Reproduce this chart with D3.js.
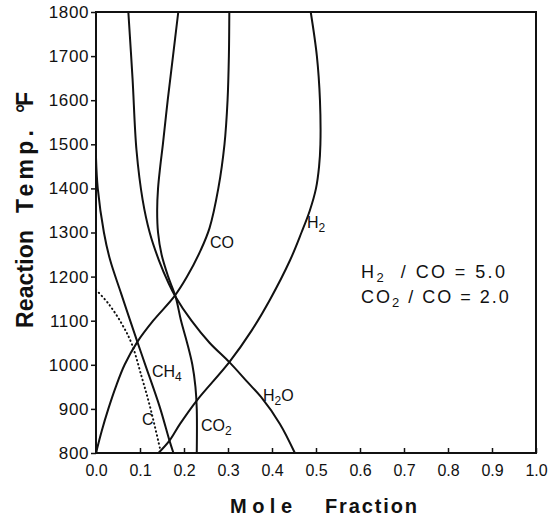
<!DOCTYPE html>
<html>
<head>
<meta charset="utf-8">
<script src="https://cdn.jsdelivr.net/npm/d3@7"></script>
<style>
  html, body { margin: 0; padding: 0; background: #fff; }
  svg { display: block; }
  text { font-family: "Liberation Sans", Arial, sans-serif; fill: #111; }
</style>
</head>
<body>
<svg id="chart" width="557" height="518"></svg>
<script>
// Axis ticks
const xTicks = [0, 0.1, 0.2, 0.3, 0.4, 0.5, 0.6, 0.7, 0.8, 0.9, 1.0];
const xTickLabels = ["0.0", "0.1", "0.2", "0.3", "0.4", "0.5", "0.6", "0.7", "0.8", "0.9", "1.0"];
const yTicks = [800, 900, 1000, 1100, 1200, 1300, 1400, 1500, 1600, 1700, 1800];
const yTickLabels = ["800", "900", "1000", "1100", "1200", "1300", "1400", "1500", "1600", "1700", "1800"];

// Equilibrium composition: reaction temperature (°F) vs mole fraction
const h2Temp  = [800, 828, 866, 919, 1006, 1078, 1147, 1237, 1300, 1350, 1400, 1450, 1500, 1600, 1700, 1800];
const h2Frac  = [0.142, 0.167, 0.191, 0.229, 0.303, 0.354, 0.395, 0.441, 0.467, 0.486, 0.500, 0.507, 0.510, 0.509, 0.502, 0.488];

const h2oTemp = [800, 866, 927, 960, 1006, 1050, 1100, 1154, 1185, 1237, 1300, 1374, 1487, 1650, 1800];
const h2oFrac = [0.452, 0.418, 0.375, 0.345, 0.303, 0.258, 0.217, 0.181, 0.165, 0.143, 0.122, 0.106, 0.092, 0.083, 0.0735];

const coTemp  = [800, 850, 900, 950, 1000, 1052, 1100, 1155, 1200, 1260, 1310, 1400, 1500, 1600, 1700, 1800];
const coFrac  = [0.0, 0.013, 0.028, 0.045, 0.065, 0.094, 0.130, 0.178, 0.207, 0.238, 0.258, 0.278, 0.292, 0.299, 0.302, 0.303];

const co2Temp = [800, 900, 950, 1000, 1050, 1101, 1154, 1200, 1250, 1300, 1350, 1400, 1450, 1500, 1600, 1700, 1800];
const co2Frac = [0.229, 0.229, 0.226, 0.219, 0.207, 0.193, 0.181, 0.164, 0.149, 0.141, 0.139, 0.141, 0.146, 0.152, 0.163, 0.175, 0.187];

const ch4Temp = [800, 828, 904, 1000, 1052, 1162, 1238, 1300, 1400, 1470];
const ch4Frac = [0.176, 0.167, 0.145, 0.112, 0.094, 0.057, 0.032, 0.018, 0.004, 0.0];

const cTemp   = [812, 904, 972, 1048, 1094, 1139, 1170];
const cFrac   = [0.145, 0.123, 0.104, 0.081, 0.058, 0.028, 0.0];

const svg = d3.select("#chart");
const plotLeft = 96, plotRight = 536, plotTop = 12, plotBottom = 453;

const x = d3.scaleLinear().domain([0, 1]).range([plotLeft, plotRight]);
const y = d3.scaleLinear().domain([800, 1800]).range([plotBottom, plotTop]);

const ink = "#111";

// Frame
svg.append("rect")
  .attr("x", plotLeft).attr("y", plotTop)
  .attr("width", plotRight - plotLeft).attr("height", plotBottom - plotTop)
  .attr("fill", "none").attr("stroke", ink).attr("stroke-width", 2);

// Bottom axis: ticks pointing inward
const xAxis = d3.axisBottom(x)
  .tickValues(xTicks)
  .tickFormat((d, i) => xTickLabels[i])
  .tickSizeInner(-5).tickSizeOuter(0).tickPadding(12);
const gx = svg.append("g").attr("transform", `translate(0,${plotBottom})`).call(xAxis);
gx.select(".domain").remove();
gx.selectAll(".tick line").attr("stroke", ink).attr("stroke-width", 1.5);
gx.selectAll(".tick text")
  .attr("font-size", 16).attr("fill", ink)
  .style("font-family", '"Liberation Sans", Arial, sans-serif');

// Left axis: ticks pointing outward
const yAxis = d3.axisLeft(y)
  .tickValues(yTicks)
  .tickFormat((d, i) => yTickLabels[i])
  .tickSizeInner(5).tickSizeOuter(0).tickPadding(2);
const gy = svg.append("g").attr("transform", `translate(${plotLeft},0)`).call(yAxis);
gy.select(".domain").remove();
gy.selectAll(".tick line").attr("stroke", ink).attr("stroke-width", 1.5);
gy.selectAll(".tick text")
  .attr("font-size", 17).attr("fill", ink).attr("letter-spacing", 0.6)
  .style("font-family", '"Liberation Sans", Arial, sans-serif');

// Curves
const line = d3.line()
  .x(d => x(d[1]))
  .y(d => y(d[0]))
  .curve(d3.curveCatmullRom.alpha(0.5));

const zip = (t, f) => t.map((v, i) => [v, f[i]]);

const series = [
  { name: "H2",  pts: zip(h2Temp, h2Frac),   dash: null },
  { name: "H2O", pts: zip(h2oTemp, h2oFrac), dash: null },
  { name: "CO",  pts: zip(coTemp, coFrac),   dash: null },
  { name: "CO2", pts: zip(co2Temp, co2Frac), dash: null },
  { name: "CH4", pts: zip(ch4Temp, ch4Frac), dash: null },
  { name: "C",   pts: zip(cTemp, cFrac),     dash: "0.5 3.6" }
];

const plot = svg.append("g");
plot.selectAll("path.curve")
  .data(series)
  .join("path")
  .attr("class", "curve")
  .attr("d", d => line(d.pts))
  .attr("fill", "none")
  .attr("stroke", ink)
  .attr("stroke-width", 2)
  .attr("stroke-linecap", "round")
  .attr("stroke-dasharray", d => d.dash);

// Curve labels (main text + subscript)
const labels = [
  { main: "CO", sub: "",  after: "",  px: 210, py: 248 },
  { main: "H",  sub: "2", after: "",  px: 307, py: 228 },
  { main: "CH", sub: "4", after: "",  px: 152, py: 377 },
  { main: "C",  sub: "",  after: "",  px: 142, py: 425 },
  { main: "CO", sub: "2", after: "",  px: 201, py: 431 },
  { main: "H",  sub: "2", after: "O", px: 263, py: 401 }
];

labels.forEach(l => {
  const t = svg.append("text")
    .attr("x", l.px).attr("y", l.py)
    .attr("font-size", 16);
  t.append("tspan").text(l.main);
  if (l.sub) t.append("tspan").attr("font-size", 12).attr("dy", 4).text(l.sub);
  if (l.after) t.append("tspan").attr("dy", -4).text(l.after);
});

// Feed ratio annotation
const note = [
  { a: "H", s: "2", b: "  / CO = 5.0", py: 278, ls: 2.4 },
  { a: "CO", s: "2", b: " / CO = 2.0", py: 303, ls: 2.0 }
];
note.forEach(n => {
  const t = svg.append("text")
    .attr("x", 361).attr("y", n.py)
    .attr("font-size", 18)
    .attr("letter-spacing", n.ls)
    .style("white-space", "pre");
  t.append("tspan").text(n.a);
  t.append("tspan").attr("font-size", 13).attr("dy", 4).text(n.s);
  t.append("tspan").attr("dy", -4).text(n.b);
});

// Axis titles
const xTitle = [
  { txt: "Mole", x0: 230, len: 62 },
  { txt: "Fraction", x0: 325, len: 92 }
];
xTitle.forEach(w => {
  svg.append("text")
    .attr("x", w.x0).attr("y", 513)
    .attr("font-size", 20).attr("font-weight", "bold")
    .attr("textLength", w.len).attr("lengthAdjust", "spacing")
    .text(w.txt);
});

const yTitle = [
  { txt: "Reaction", y0: 328, len: 98 },
  { txt: "Temp.", y0: 213, len: 83 },
  { txt: "°F", y0: 113, len: 21 }
];
yTitle.forEach(w => {
  svg.append("text")
    .attr("transform", `translate(33,${w.y0}) rotate(-90)`)
    .attr("font-size", 23).attr("font-weight", "bold")
    .attr("textLength", w.len).attr("lengthAdjust", "spacing")
    .text(w.txt);
});
</script>
</body>
</html>
